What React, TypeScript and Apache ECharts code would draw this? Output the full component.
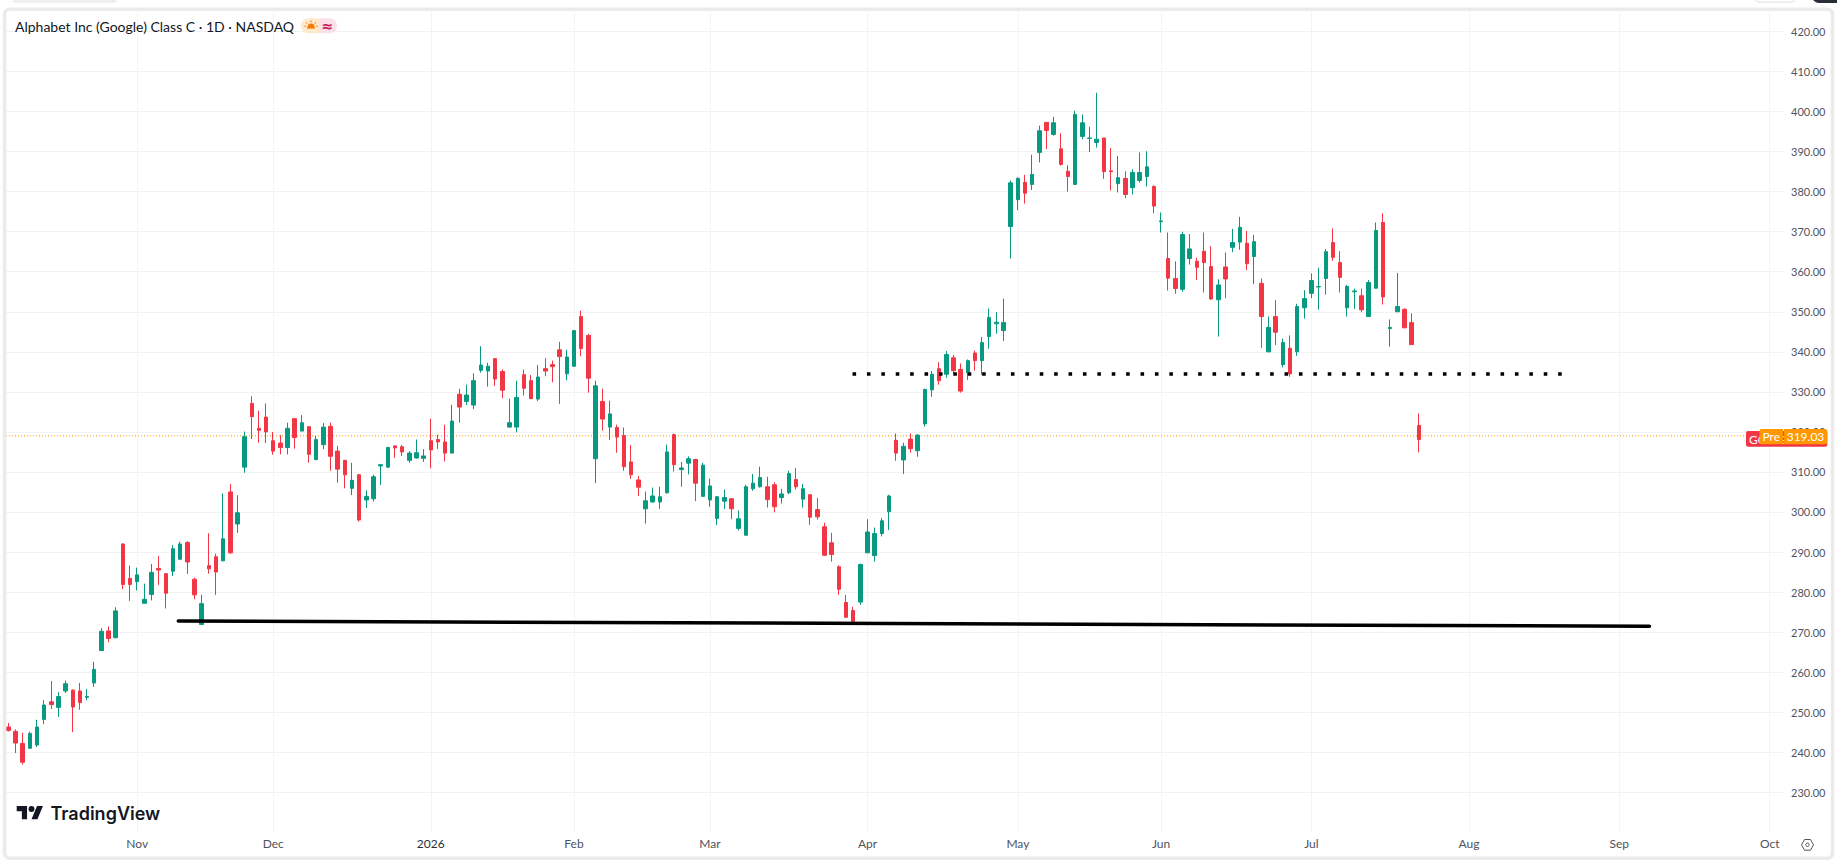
import React, { useEffect, useRef } from "react";
import * as echarts from "echarts";

const opens = [
  246.3, 245.2, 242.2, 241.0, 241.8, 248.2, 252.6, 251.2, 255.3, 255.5,
  255.3, 253.7, 257.3, 265.4, 270.3, 268.6, 292.0, 283.4, 282.6, 277.2,
  279.4, 285.9, 284.6, 285.2, 288.2, 292.4, 283.2, 271.9, 286.6, 288.8,
  287.8, 305.0, 297.0, 311.2, 327.1, 320.9, 323.7, 317.8, 317.2, 316.1,
  323.3, 320.2, 321.3, 313.1, 316.8, 321.4, 315.2, 312.9, 305.9, 309.3,
  303.0, 303.3, 311.5, 311.2, 316.5, 316.3, 312.9, 313.5, 313.4, 317.8,
  318.1, 317.5, 314.7, 329.4, 327.6, 326.7, 335.4, 335.2, 338.3, 335.1,
  321.2, 321.2, 334.3, 332.8, 328.2, 335.8, 336.8, 340.5, 334.5, 336.4,
  348.8, 344.1, 313.3, 327.6, 321.2, 321.1, 319.1, 312.5, 308.0, 300.8,
  302.5, 302.5, 304.8, 319.3, 310.6, 312.2, 313.1, 303.9, 303.0, 298.4,
  302.7, 303.3, 295.9, 294.2, 305.8, 306.3, 306.3, 306.8, 303.6, 304.8,
  308.1, 303.2, 304.3, 300.6, 296.3, 292.3, 286.3, 277.4, 275.4, 277.5,
  289.8, 289.1, 294.6, 300.1, 317.9, 313.0, 318.2, 315.3, 322.0, 330.5,
  335.8, 334.4, 338.5, 335.6, 334.8, 339.7, 337.8, 343.8, 347.0, 345.3,
  371.3, 378.0, 382.3, 381.8, 389.8, 397.3, 394.3, 390.7, 385.1, 381.8,
  393.8, 393.3, 392.3, 393.4, 385.2, 382.0, 383.3, 381.0, 382.8, 383.8,
  381.3, 372.5, 363.3, 358.3, 355.6, 363.3, 362.6, 365.1, 361.3, 353.0,
  361.2, 366.1, 367.4, 367.1, 363.8, 357.1, 340.0, 348.8, 336.8, 340.9,
  340.0, 351.0, 354.6, 356.2, 358.3, 367.3, 362.3, 351.0, 355.0, 354.0,
  348.8, 355.9, 372.3, 345.8, 350.0, 350.6, 347.3, 321.6,
];
const closes = [
  245.4, 242.3, 237.5, 244.7, 246.3, 251.8, 251.9, 253.9, 257.1, 251.3,
  252.4, 253.9, 260.7, 270.2, 268.4, 275.3, 281.9, 281.9, 284.3, 278.2,
  284.9, 285.5, 279.7, 290.8, 292.0, 287.5, 279.3, 277.1, 285.8, 285.0,
  293.3, 289.8, 299.8, 318.8, 323.8, 320.4, 320.0, 315.2, 316.1, 320.9,
  318.6, 322.3, 314.4, 318.1, 321.2, 313.9, 310.7, 309.3, 307.9, 298.0,
  303.9, 308.8, 311.8, 316.1, 316.0, 315.0, 314.7, 314.8, 314.0, 315.5,
  317.5, 314.7, 322.7, 326.2, 329.2, 332.8, 336.7, 336.4, 333.2, 330.4,
  322.3, 328.6, 330.9, 328.3, 333.7, 335.2, 336.3, 338.8, 338.7, 345.3,
  340.8, 333.4, 331.5, 323.2, 324.5, 318.7, 311.3, 309.3, 306.2, 302.8,
  304.0, 303.8, 315.0, 311.8, 311.0, 313.3, 307.2, 311.7, 306.5, 303.8,
  303.6, 300.8, 298.3, 306.3, 307.2, 308.6, 303.1, 301.3, 304.5, 309.6,
  306.3, 305.8, 298.7, 298.8, 289.2, 289.4, 280.7, 273.7, 272.7, 286.9,
  295.0, 294.6, 297.8, 304.0, 314.7, 316.4, 315.8, 319.2, 330.6, 334.4,
  332.8, 339.3, 335.3, 330.2, 337.8, 337.8, 342.3, 348.6, 347.4, 347.3,
  382.2, 383.3, 379.6, 384.3, 395.2, 395.3, 397.2, 386.8, 383.8, 399.3,
  397.2, 393.4, 393.1, 385.0, 385.0, 383.5, 379.3, 384.8, 384.8, 386.2,
  376.4, 372.7, 358.4, 355.8, 369.3, 365.7, 361.1, 362.3, 353.2, 356.7,
  358.2, 367.3, 371.1, 362.0, 367.5, 348.8, 346.1, 344.9, 342.3, 334.5,
  351.3, 353.3, 357.8, 356.3, 365.0, 363.6, 358.6, 356.3, 355.2, 350.5,
  357.3, 370.3, 353.7, 346.1, 351.3, 346.0, 341.8, 318.1,
];
const lows = [
  245.2, 239.8, 236.9, 240.9, 241.3, 247.0, 250.8, 248.8, 254.8, 245.0,
  250.6, 253.0, 256.3, 265.3, 267.5, 268.5, 280.7, 277.8, 280.4, 277.1,
  277.9, 281.8, 275.9, 284.0, 288.1, 284.5, 278.2, 271.8, 284.6, 279.3,
  287.7, 289.5, 294.8, 309.8, 318.2, 317.3, 317.2, 314.3, 314.4, 314.4,
  315.8, 320.2, 312.3, 312.9, 315.7, 310.3, 307.3, 305.9, 304.2, 297.6,
  301.0, 302.6, 306.8, 311.0, 313.5, 314.0, 312.3, 313.3, 312.5, 310.9,
  315.7, 312.6, 314.7, 322.3, 326.7, 325.7, 334.8, 331.3, 331.5, 328.4,
  321.1, 319.9, 329.1, 328.2, 327.7, 333.9, 332.4, 327.0, 332.9, 336.3,
  338.9, 329.8, 307.2, 320.3, 318.0, 314.8, 310.3, 308.3, 304.0, 297.1,
  302.3, 300.8, 304.6, 310.1, 306.3, 309.4, 302.7, 303.8, 301.3, 296.8,
  300.8, 298.2, 295.4, 294.1, 305.3, 306.1, 301.1, 299.9, 302.1, 304.5,
  305.6, 301.1, 296.8, 298.1, 289.0, 287.6, 279.3, 273.6, 271.8, 276.8,
  289.8, 287.6, 293.9, 295.5, 312.8, 309.5, 314.8, 313.8, 321.3, 328.8,
  331.8, 333.5, 334.6, 329.8, 333.0, 335.3, 334.3, 340.8, 344.5, 342.7,
  363.3, 375.4, 377.0, 380.4, 387.3, 390.6, 394.0, 386.5, 380.0, 381.8,
  393.1, 389.9, 391.0, 383.2, 380.3, 379.8, 378.4, 379.3, 382.3, 381.3,
  374.6, 369.8, 355.3, 354.5, 355.0, 361.8, 357.9, 354.8, 353.0, 343.8,
  353.4, 364.9, 365.5, 360.4, 356.9, 341.0, 339.9, 341.7, 336.1, 333.8,
  339.0, 348.3, 353.4, 350.5, 354.3, 362.7, 354.8, 348.8, 350.7, 349.9,
  348.7, 355.8, 351.8, 341.3, 350.0, 345.9, 341.7, 314.9,
];
const highs = [
  247.3, 245.7, 244.9, 245.1, 248.1, 253.0, 257.8, 255.0, 257.9, 255.7,
  257.3, 255.8, 262.6, 271.0, 271.4, 276.2, 292.2, 286.6, 286.1, 282.1,
  287.0, 289.0, 284.7, 291.7, 292.6, 292.7, 283.6, 279.3, 294.7, 289.6,
  304.6, 307.0, 304.2, 320.1, 328.9, 325.3, 327.1, 320.0, 319.2, 322.3,
  323.4, 324.2, 321.3, 319.0, 322.2, 322.3, 316.5, 313.0, 312.3, 309.5,
  305.4, 309.3, 312.0, 316.3, 316.6, 316.7, 315.2, 318.1, 315.7, 323.3,
  319.3, 321.8, 326.8, 330.8, 331.8, 334.6, 341.4, 337.3, 338.3, 335.6,
  328.3, 332.8, 335.6, 334.2, 336.7, 338.4, 337.8, 342.5, 340.5, 345.4,
  350.3, 344.5, 332.8, 330.8, 327.8, 321.8, 321.1, 316.7, 309.0, 305.1,
  306.1, 306.3, 316.8, 319.6, 312.5, 313.9, 313.3, 312.3, 308.3, 304.0,
  305.6, 303.5, 300.4, 306.8, 309.5, 311.3, 308.8, 307.4, 305.8, 310.3,
  311.0, 307.0, 304.4, 303.5, 297.3, 294.8, 286.7, 279.3, 276.3, 287.1,
  298.2, 296.1, 298.5, 304.3, 319.6, 317.3, 319.6, 319.4, 330.8, 335.2,
  337.4, 340.2, 339.2, 337.1, 338.1, 340.3, 343.7, 350.8, 349.9, 353.3,
  382.8, 383.6, 384.2, 389.2, 396.5, 397.4, 398.7, 394.6, 386.6, 400.2,
  399.3, 396.2, 404.7, 393.4, 390.9, 388.9, 385.1, 385.6, 389.8, 390.1,
  381.6, 374.8, 369.8, 362.6, 370.0, 369.4, 363.5, 369.8, 366.4, 358.1,
  364.8, 370.7, 373.7, 370.2, 369.2, 358.3, 348.8, 352.9, 343.3, 344.1,
  352.0, 355.4, 359.6, 361.0, 365.7, 370.8, 365.1, 356.7, 355.8, 355.8,
  357.9, 372.3, 374.6, 348.1, 359.7, 350.9, 349.6, 324.6,
];

const monthTicks: [number, string][] = [
  [18, "Nov"], [37, "Dec"], [59, "2026"], [79, "Feb"], [98, "Mar"], [120, "Apr"],
  [141, "May"], [161, "Jun"], [182, "Jul"], [204, "Aug"], [225, "Sep"], [246, "Oct"],
];
const priceMin = 220;
const priceMax = 425;
const priceStep = 10;
const slotCount = 248;

const supportX = [23.74, 229.2];
const supportY = [272.77, 271.45];
const resistanceX = [117.9, 217.4];
const resistanceY = [334.46, 334.46];
const preMarketPrice = 319.03;
const preLineX = [-0.325, 242.7];

const titleText = "Alphabet Inc (Google) Class C · 1D · NASDAQ";
const font = "Lato, 'Noto Sans', sans-serif";

const monthMap = new Map(monthTicks);
const categories = Array.from({ length: slotCount }, (_, i) => monthMap.get(i) ?? "");
const candles = opens.map((o, i) => [o, closes[i], lows[i], highs[i]]);
const pairs = (xs: number[], ys: number[]) => xs.map((x, i) => [x, ys[i]]);

echarts.graphic.registerShape(
  "tvLogo",
  echarts.graphic.extendPath(
    "M14 22H7V11H0V4h14v18zM28 22h-8l7.5-18h8L28 22zM24 8a4 4 0 1 1-8 0a4 4 0 1 1 8 0z",
    {}
  )
);

function buildOption() {
  const isMonth = (i: number) => monthMap.has(i);
  const yTop = 11.48;
  const yHeight = 820.82;
  return {
    animation: false,
    backgroundColor: "#ffffff",
    grid: [
      { left: 8.33, top: yTop, width: 1768.5, height: yHeight, containLabel: false },
      { left: 6, top: yTop, width: 1777, height: yHeight, containLabel: false },
    ],
    xAxis: [
      {
        type: "category",
        gridIndex: 0,
        data: categories,
        boundaryGap: false,
        axisLine: { show: false },
        axisTick: { show: false },
        splitLine: { show: true, interval: (i: number) => isMonth(i), lineStyle: { color: "#f4f4f4", width: 1 } },
        axisLabel: {
          show: true,
          interval: (i: number) => isMonth(i),
          margin: 5,
          fontFamily: font,
          fontSize: 12,
          color: (v: string) => (v === "2026" ? "#2a2e39" : "#50535e"),
        },
      },
      {
        type: "value",
        gridIndex: 1,
        min: preLineX[0],
        max: 247.85,
        show: false,
        splitLine: { show: false },
      },
    ],
    yAxis: [
      {
        type: "value",
        gridIndex: 0,
        min: priceMin,
        max: priceMax,
        interval: priceStep,
        show: false,
        splitLine: { show: false },
      },
      {
        type: "value",
        gridIndex: 1,
        min: priceMin,
        max: priceMax,
        interval: priceStep,
        position: "right",
        axisLine: { show: false },
        axisTick: { show: false },
        splitLine: { show: true, showMinLine: false, showMaxLine: false, lineStyle: { color: "#f2f2f2", width: 1 } },
        axisLabel: {
          show: true,
          showMinLabel: false,
          showMaxLabel: false,
          margin: 8,
          align: "left",
          fontFamily: font,
          fontSize: 11,
          color: "#50535e",
          formatter: (v: number) => v.toFixed(2),
        },
      },
    ],
    series: [
      {
        type: "candlestick",
        xAxisIndex: 0,
        yAxisIndex: 0,
        clip: false,
        barWidth: 4,
        data: candles,
        itemStyle: {
          color: "#089981",
          color0: "#f23645",
          borderColor: "#089981",
          borderColor0: "#f23645",
          borderColorDoji: "#089981",
          borderWidth: 1,
        },
        z: 2,
      },
      {
        type: "line",
        xAxisIndex: 1,
        yAxisIndex: 1,
        data: pairs(preLineX, [preMarketPrice, preMarketPrice]),
        symbol: "none",
        silent: true,
        lineStyle: { color: "#ff9800", width: 1, type: [1, 2] },
        z: 1,
      },
      {
        type: "line",
        xAxisIndex: 1,
        yAxisIndex: 1,
        data: pairs(supportX, supportY),
        symbol: "none",
        silent: true,
        lineStyle: { color: "#000000", width: 3.5, cap: "round" },
        z: 3,
      },
      {
        type: "line",
        xAxisIndex: 1,
        yAxisIndex: 1,
        data: pairs(resistanceX, resistanceY),
        symbol: "none",
        silent: true,
        lineStyle: { color: "#000000", width: 3.6, type: [3.6, 10.8] },
        z: 3,
      },
    ],
    graphic: { elements: [
      { type: "rect", z: 50, silent: true, shape: { x: 0, y: 0, width: 1837, height: 7.5 }, style: { fill: "#ffffff" } },
      { type: "rect", z: 51, silent: true, shape: { x: 12, y: -5, width: 105, height: 8, r: 4 }, style: { fill: "#efefef" } },
      { type: "rect", z: 51, silent: true, shape: { x: 1754, y: -12, width: 43, height: 14, r: 6 }, style: { fill: "#ffffff", stroke: "#e0e0e0", lineWidth: 1 } },
      { type: "rect", z: 51, silent: true, shape: { x: 1812, y: -12, width: 40, height: 15, r: 7 }, style: { fill: "#2a2e39" } },
      { type: "rect", z: 52, silent: true, shape: { x: 0, y: 0, width: 3, height: 862 }, style: { fill: "#ffffff" } },
      { type: "rect", z: 52, silent: true, shape: { x: 4.6, y: 9.3, width: 1828, height: 849, r: 5 }, style: { fill: "transparent", stroke: "#ebebeb", lineWidth: 3.6 } },

      { type: "text", z: 60, silent: true, x: 15, y: 26.5, style: { text: titleText, fontFamily: font, fontSize: 14, fill: "#131722", textVerticalAlign: "middle" } },

      { type: "rect", z: 60, silent: true, shape: { x: 301, y: 18.3, width: 18, height: 15, r: [7.5, 0, 0, 7.5] }, style: { fill: "#ffe9cc" } },
      { type: "rect", z: 60, silent: true, shape: { x: 319, y: 18.3, width: 18, height: 15, r: [0, 7.5, 7.5, 0] }, style: { fill: "#fddfe8" } },
      { type: "sector", z: 61, silent: true, shape: { cx: 311, cy: 27, r0: 0, r: 3.4, startAngle: Math.PI, endAngle: Math.PI * 2 }, style: { fill: "#f57c00" } },
      { type: "rect", z: 61, silent: true, shape: { x: 307, y: 27, width: 8, height: 1.6 }, style: { fill: "#f57c00" } },
      { type: "circle", z: 61, silent: true, shape: { cx: 311, cy: 21.4, r: 0.7 }, style: { fill: "#f57c00" } },
      { type: "circle", z: 61, silent: true, shape: { cx: 306.7, cy: 23, r: 0.7 }, style: { fill: "#f57c00" } },
      { type: "circle", z: 61, silent: true, shape: { cx: 315.3, cy: 23, r: 0.7 }, style: { fill: "#f57c00" } },
      { type: "circle", z: 61, silent: true, shape: { cx: 305, cy: 26.2, r: 0.7 }, style: { fill: "#f57c00" } },
      { type: "circle", z: 61, silent: true, shape: { cx: 317, cy: 26.2, r: 0.7 }, style: { fill: "#f57c00" } },
      { type: "text", z: 61, silent: true, x: 327.3, y: 26, style: { text: "≈", fontFamily: "'DejaVu Sans', sans-serif", fontSize: 14, fontWeight: "bold", fill: "#c2185b", textAlign: "center", textVerticalAlign: "middle" } },

      { type: "tvLogo", z: 60, silent: true, x: 16.7, y: 803, scaleX: 0.74, scaleY: 0.74, style: { fill: "#131722" } },
      { type: "text", z: 60, silent: true, x: 50.5, y: 813, style: { text: "TradingView", fontFamily: "Inter, sans-serif", fontSize: 18, fontWeight: 600, fill: "#131722", textVerticalAlign: "middle" } },

      { type: "rect", z: 70, silent: true, shape: { x: 1746, y: 431, width: 81.3, height: 15.7, r: 2 }, style: { fill: "#f23645" } },
      { type: "text", z: 71, silent: true, x: 1749, y: 439, style: { text: "GOOG", fontFamily: font, fontSize: 12, fill: "#ffffff", textVerticalAlign: "middle" } },
      { type: "rect", z: 72, silent: true, shape: { x: 1759.5, y: 429, width: 23.6, height: 15.3, r: [2, 0, 0, 2] }, style: { fill: "#ff9800" } },
      { type: "rect", z: 72, silent: true, shape: { x: 1784, y: 429, width: 43.3, height: 15.3, r: [0, 2, 2, 0] }, style: { fill: "#ff9800" } },
      { type: "text", z: 73, silent: true, x: 1771.3, y: 436.8, style: { text: "Pre", fontFamily: font, fontSize: 12, fill: "#ffffff", textAlign: "center", textVerticalAlign: "middle" } },
      { type: "text", z: 73, silent: true, x: 1805.5, y: 436.8, style: { text: preMarketPrice.toFixed(2), fontFamily: font, fontSize: 12, fill: "#ffffff", textAlign: "center", textVerticalAlign: "middle" } },

      { type: "polygon", z: 60, silent: true, shape: { points: [[1801.5, 844.8], [1804.5, 839.5], [1810.5, 839.5], [1813.5, 844.8], [1810.5, 850.2], [1804.5, 850.2]] }, style: { fill: "transparent", stroke: "#50535e", lineWidth: 1 } },
      { type: "circle", z: 60, silent: true, shape: { cx: 1807.5, cy: 844.8, r: 1.7 }, style: { fill: "transparent", stroke: "#50535e", lineWidth: 1 } },
    ] },
  };
}

export default function App() {
  const ref = useRef<HTMLDivElement>(null);
  useEffect(() => {
    document.body.style.margin = "0";
    const chart = echarts.init(ref.current!, undefined, { renderer: "svg" });
    chart.setOption(buildOption() as any);
    return () => chart.dispose();
  }, []);
  return <div ref={ref} style={{ width: 1837, height: 862, background: "#fff" }} />;
}
